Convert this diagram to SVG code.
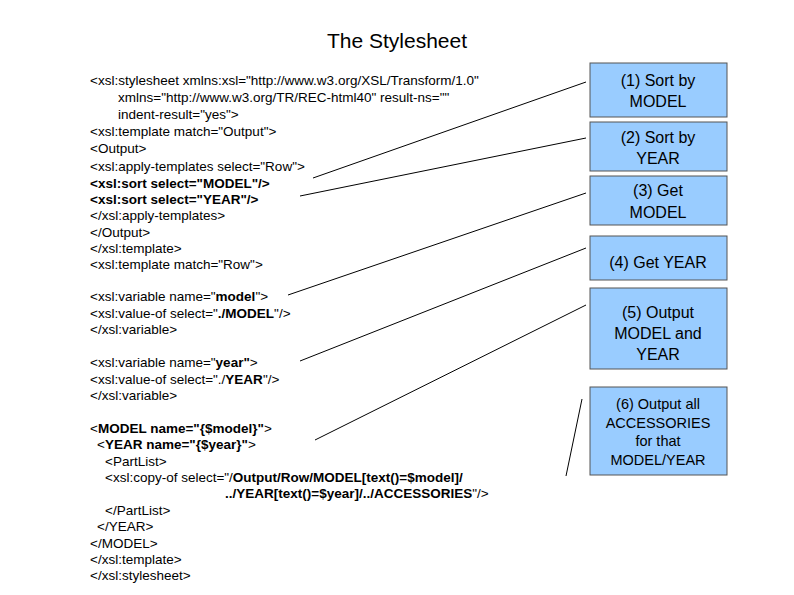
<svg xmlns="http://www.w3.org/2000/svg" width="794" height="595" viewBox="0 0 794 595">
<style>
text{font-family:"Liberation Sans",Arial,sans-serif;fill:#000}
.c{font-size:13.5px}
.b{font-weight:bold}
.box{fill:#99ccff;stroke:#555;stroke-width:1}
.bt{font-size:16px;text-anchor:middle}
.bt6{font-size:14.5px;text-anchor:middle}
.ln{stroke:#000;stroke-width:1;fill:none}
</style>
<rect width="794" height="595" fill="#fff"/>
<text x="397" y="48" font-size="21" text-anchor="middle">The Stylesheet</text>
<g id="code" class="c">
<text x="90" y="85">&lt;xsl:stylesheet xmlns:xsl="http://www.w3.org/XSL/Transform/1.0"</text>
<text x="118" y="102">xmlns="http://www.w3.org/TR/REC-html40" result-ns=""</text>
<text x="118" y="119">indent-result="yes"&gt;</text>
<text x="90" y="136">&lt;xsl:template match="Output"&gt;</text>
<text x="90" y="153">&lt;Output&gt;</text>
<text x="90" y="171">&lt;xsl:apply-templates select="Row"&gt;</text>
<text x="90" y="188" class="b">&lt;xsl:sort select="MODEL"/&gt;</text>
<text x="90" y="204" class="b">&lt;xsl:sort select="YEAR"/&gt;</text>
<text x="90" y="220">&lt;/xsl:apply-templates&gt;</text>
<text x="90" y="237">&lt;/Output&gt;</text>
<text x="90" y="253">&lt;/xsl:template&gt;</text>
<text x="90" y="269">&lt;xsl:template match="Row"&gt;</text>
<text x="90" y="301">&lt;xsl:variable name="<tspan class="b">model</tspan>"&gt;</text>
<text x="90" y="318">&lt;xsl:value-of select="<tspan class="b">./MODEL</tspan>"/&gt;</text>
<text x="90" y="334">&lt;/xsl:variable&gt;</text>
<text x="90" y="367">&lt;xsl:variable name="<tspan class="b">year"</tspan>&gt;</text>
<text x="90" y="384">&lt;xsl:value-of select="./<tspan class="b">YEAR</tspan>"/&gt;</text>
<text x="90" y="400">&lt;/xsl:variable&gt;</text>
<text x="90" y="433">&lt;<tspan class="b">MODEL name="{$model}"</tspan>&gt;</text>
<text x="97" y="449">&lt;<tspan class="b">YEAR name="{$year}"</tspan>&gt;</text>
<text x="105" y="466">&lt;PartList&gt;</text>
<text x="105" y="482">&lt;xsl:copy-of select="/<tspan class="b">Output/Row/MODEL[text()=$model]/</tspan></text>
<text x="225" y="498"><tspan class="b">../YEAR[text()=$year]/../ACCESSORIES</tspan>"/&gt;</text>
<text x="105" y="515">&lt;/PartList&gt;</text>
<text x="97" y="531">&lt;/YEAR&gt;</text>
<text x="90" y="548">&lt;/MODEL&gt;</text>
<text x="90" y="564">&lt;/xsl:template&gt;</text>
<text x="90" y="580">&lt;/xsl:stylesheet&gt;</text>
</g>
<g id="connectors" class="ln">
<line x1="313" y1="178" x2="586" y2="82"/>
<line x1="300" y1="196" x2="586" y2="138"/>
<line x1="288" y1="295" x2="586" y2="193"/>
<line x1="300" y1="361" x2="586" y2="248"/>
<line x1="315" y1="440" x2="586" y2="305"/>
<line x1="566" y1="476" x2="582" y2="399"/>
</g>
<g id="n1"><rect class="box" x="590" y="63" width="137" height="54"/><text class="bt" x="658" y="86">(1) Sort by</text><text class="bt" x="658" y="107">MODEL</text></g>
<g id="n2"><rect class="box" x="590" y="122" width="137" height="49"/><text class="bt" x="658" y="143">(2) Sort by</text><text class="bt" x="658" y="164">YEAR</text></g>
<g id="n3"><rect class="box" x="590" y="176" width="137" height="49"/><text class="bt" x="658" y="196">(3) Get</text><text class="bt" x="658" y="218">MODEL</text></g>
<g id="n4"><rect class="box" x="590" y="236" width="137" height="44"/><text class="bt" x="658" y="268">(4) Get YEAR</text></g>
<g id="n5"><rect class="box" x="590" y="288" width="137" height="81"/><text class="bt" x="658" y="318">(5) Output</text><text class="bt" x="658" y="339">MODEL and</text><text class="bt" x="658" y="360">YEAR</text></g>
<g id="n6"><rect class="box" x="590" y="387" width="137" height="88"/><text class="bt6" x="658" y="409">(6) Output all</text><text class="bt6" x="658" y="428">ACCESSORIES</text><text class="bt6" x="658" y="446">for that</text><text class="bt6" x="658" y="465">MODEL/YEAR</text></g>
</svg>
